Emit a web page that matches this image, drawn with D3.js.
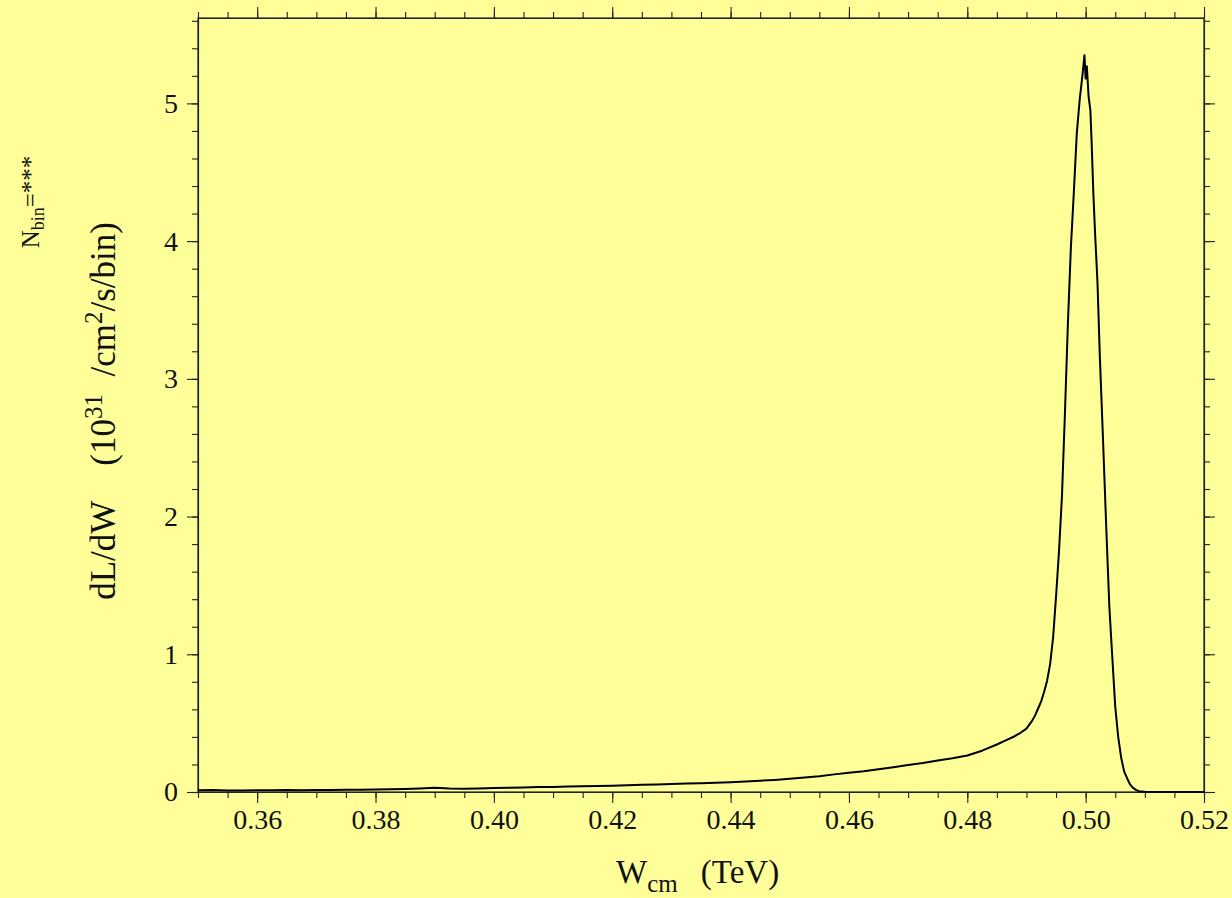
<!DOCTYPE html>
<html>
<head>
<meta charset="utf-8">
<script src="https://cdn.jsdelivr.net/npm/d3@7"></script>
<style>
  body { margin: 0; background: #ffff99; }
  svg text { font-family: "Liberation Serif", "DejaVu Serif", serif; fill: #111; }
</style>
</head>
<body>
<div id="chart_area"></div>
<script>
// values
var wcm = [
  0.350, 0.3525, 0.355, 0.3575, 0.360, 0.3625, 0.365, 0.3675, 0.370, 0.3725,
  0.375, 0.3775, 0.380, 0.3825, 0.385, 0.3875, 0.390, 0.3925, 0.395, 0.3975,
  0.400, 0.4025, 0.405, 0.4075, 0.410, 0.4125, 0.415, 0.4175, 0.420, 0.4225,
  0.425, 0.4275, 0.430, 0.4325, 0.435, 0.4375, 0.440, 0.4425, 0.445, 0.4475,
  0.450, 0.4525, 0.455, 0.4575, 0.460, 0.4625, 0.465, 0.4675, 0.470, 0.4725,
  0.475, 0.4775, 0.480, 0.4825, 0.485, 0.4865, 0.488, 0.489, 0.490, 0.491,
  0.4915, 0.492, 0.4925, 0.493, 0.4935, 0.494, 0.4945, 0.495, 0.4955, 0.496,
  0.4965, 0.497, 0.4975, 0.498, 0.4985, 0.499, 0.4995, 0.4998, 0.5000, 0.5002,
  0.5005, 0.5008, 0.501, 0.5013, 0.5016, 0.502, 0.5024, 0.5029, 0.5035, 0.504,
  0.5045, 0.505, 0.5055, 0.506, 0.5065, 0.507, 0.5075, 0.508, 0.5085, 0.509,
  0.510, 0.511, 0.520
];
var dldw = [
  0.012, 0.014, 0.010, 0.011, 0.013, 0.012, 0.014, 0.013, 0.015, 0.014,
  0.016, 0.017, 0.018, 0.020, 0.022, 0.026, 0.030, 0.025, 0.024, 0.026,
  0.029, 0.031, 0.033, 0.036, 0.037, 0.040, 0.041, 0.043, 0.045, 0.049,
  0.052, 0.055, 0.058, 0.061, 0.064, 0.068, 0.071, 0.076, 0.082, 0.088,
  0.096, 0.105, 0.115, 0.128, 0.140, 0.150, 0.165, 0.180, 0.196, 0.210,
  0.228, 0.245, 0.265, 0.300, 0.345, 0.375, 0.405, 0.430, 0.460, 0.520,
  0.560, 0.610, 0.660, 0.730, 0.810, 0.930, 1.120, 1.420, 1.750, 2.150,
  2.750, 3.400, 3.950, 4.350, 4.780, 5.030, 5.220, 5.350, 5.180, 5.270,
  5.050, 4.950, 4.730, 4.350, 4.050, 3.700, 3.160, 2.600, 1.900, 1.350,
  0.980, 0.620, 0.400, 0.250, 0.150, 0.100, 0.055, 0.030, 0.015, 0.006,
  0.001, 0.000, 0.000
];
var xMajorTicks = [0.36, 0.38, 0.40, 0.42, 0.44, 0.46, 0.48, 0.50, 0.52];
var yMajorTicks = [0, 1, 2, 3, 4, 5];

var W = 1232, H = 898;
var frame = {left: 198, right: 1204, top: 18, bottom: 792};

var svG = d3.select("#chart_area")
    .append("svg")
    .attr("width", W)
    .attr("height", H);

svG.append("rect")
    .attr("width", W).attr("height", H)
    .attr("fill", "#ffff99");

var xPosition = d3.scaleLinear()
    .domain([0.35, 0.52])
    .range([frame.left, frame.right]);

var yPosition = d3.scaleLinear()
    .domain([0, 5.62])
    .range([frame.bottom, frame.top]);

// minor ticks every 0.005 / 0.2
var xMinor = d3.range(0, 35).map(function(i) { return 0.35 + i * 0.005; });
var yMinor = d3.range(0, 29).map(function(i) { return i * 0.2; });

var fmt = d3.format(".2f");

function styleAxis(g) {
    g.selectAll("path").attr("stroke", "#222").attr("stroke-width", 1.2);
    g.selectAll("line").attr("stroke", "#222").attr("stroke-width", 1.1);
}

// bottom
svG.append("g")
    .attr("transform", "translate(0," + frame.bottom + ")")
    .call(d3.axisBottom(xPosition).tickValues(xMinor).tickSize(6).tickSizeOuter(0).tickFormat(""))
    .call(styleAxis);
var xb = svG.append("g")
    .attr("transform", "translate(0," + frame.bottom + ")")
    .call(d3.axisBottom(xPosition).tickValues(xMajorTicks).tickSize(11).tickSizeOuter(0).tickFormat(fmt).tickPadding(6))
    .call(styleAxis);
xb.selectAll("text")
    .attr("font-size", 28)
    .attr("font-family", "Liberation Serif")
    .attr("fill", "#111");
xb.select("path").remove();

// top
svG.append("g")
    .attr("transform", "translate(0," + frame.top + ")")
    .call(d3.axisTop(xPosition).tickValues(xMinor).tickSize(6).tickSizeOuter(0).tickFormat(""))
    .call(styleAxis);
svG.append("g")
    .attr("transform", "translate(0," + frame.top + ")")
    .call(d3.axisTop(xPosition).tickValues(xMajorTicks).tickSize(11).tickSizeOuter(0).tickFormat(""))
    .call(styleAxis)
    .select("path").remove();

// left
svG.append("g")
    .attr("transform", "translate(" + frame.left + ",0)")
    .call(d3.axisLeft(yPosition).tickValues(yMinor).tickSize(6).tickSizeOuter(0).tickFormat(""))
    .call(styleAxis);
var yl = svG.append("g")
    .attr("transform", "translate(" + frame.left + ",0)")
    .call(d3.axisLeft(yPosition).tickValues(yMajorTicks).tickSize(11).tickSizeOuter(0).tickFormat(d3.format("d")).tickPadding(9))
    .call(styleAxis);
yl.selectAll("text")
    .attr("font-size", 28)
    .attr("font-family", "Liberation Serif")
    .attr("fill", "#111");
yl.select("path").remove();

// right
svG.append("g")
    .attr("transform", "translate(" + frame.right + ",0)")
    .call(d3.axisRight(yPosition).tickValues(yMinor).tickSize(6).tickSizeOuter(0).tickFormat(""))
    .call(styleAxis);
svG.append("g")
    .attr("transform", "translate(" + frame.right + ",0)")
    .call(d3.axisRight(yPosition).tickValues(yMajorTicks).tickSize(11).tickSizeOuter(0).tickFormat(""))
    .call(styleAxis)
    .select("path").remove();

// frame
svG.append("rect")
    .attr("x", frame.left).attr("y", frame.top)
    .attr("width", frame.right - frame.left)
    .attr("height", frame.bottom - frame.top)
    .attr("fill", "none")
    .attr("stroke", "#222")
    .attr("stroke-width", 1.2);

// luminosity spectrum
var points = wcm.map(function(w, i) { return [w, dldw[i]]; });
var line = d3.line()
    .x(function(d) { return xPosition(d[0]); })
    .y(function(d) { return yPosition(d[1]); });

svG.append("path")
    .datum(points)
    .attr("d", line)
    .attr("fill", "none")
    .attr("stroke", "#000")
    .attr("stroke-width", 2)
    .attr("stroke-linejoin", "round");

// x title
var xt = svG.append("text")
    .attr("x", 616)
    .attr("y", 883)
    .attr("font-size", 33);
xt.append("tspan").text("W");
xt.append("tspan").attr("font-size", 25).attr("dy", 9).text("cm");
xt.append("tspan").attr("dy", -9).text("\u2002\u2009(TeV)");

// y title
var yt = svG.append("text")
    .attr("transform", "translate(115,411) rotate(-90)")
    .attr("text-anchor", "middle")
    .attr("font-size", 35);
yt.append("tspan").text("dL/dW\u2002\u2002(10");
yt.append("tspan").attr("font-size", 25).attr("dy", -13).text("31");
yt.append("tspan").attr("dy", 13).text("\u2002/cm");
yt.append("tspan").attr("font-size", 25).attr("dy", -13).text("2");
yt.append("tspan").attr("dy", 13).text("/s/bin)");

// N_bin label
var nt = svG.append("text")
    .attr("transform", "translate(39,202) rotate(-90)")
    .attr("text-anchor", "middle")
    .attr("font-size", 25);
nt.append("tspan").text("N");
nt.append("tspan").attr("font-size", 18).attr("dy", 5).text("bin");
nt.append("tspan").attr("dy", -5).text("=***");
</script>
</body>
</html>
